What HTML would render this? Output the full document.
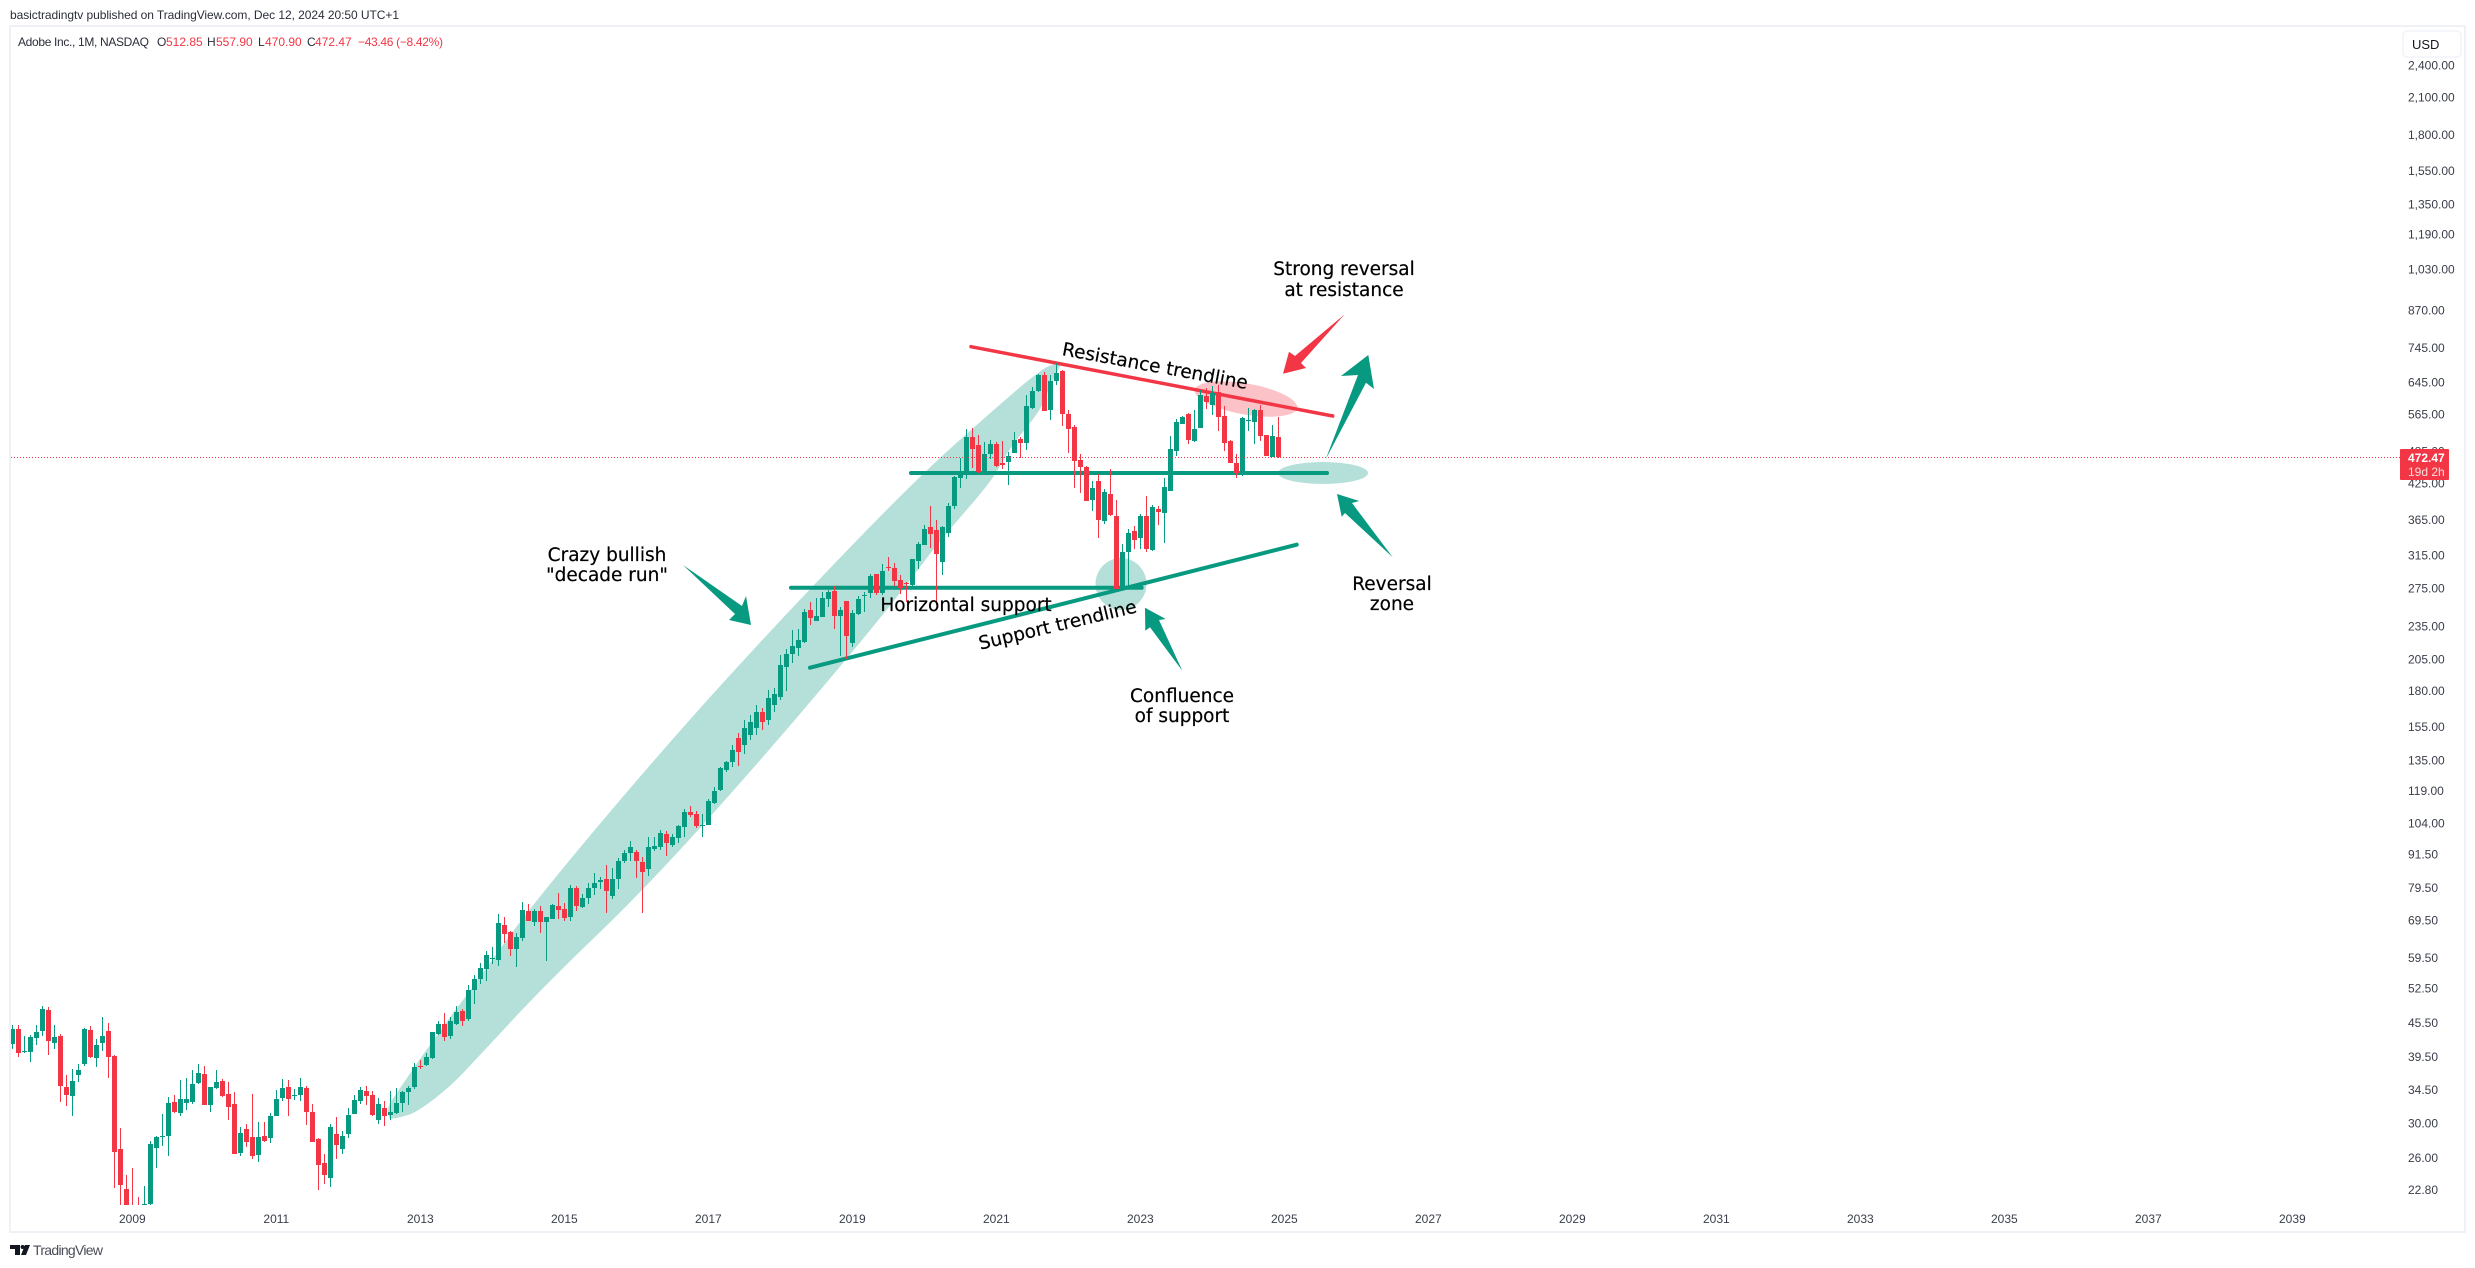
<!DOCTYPE html>
<html lang="en">
<head>
<meta charset="utf-8">
<title>Adobe Inc. monthly chart</title>
<style>
html,body{margin:0;padding:0;background:#fff;width:2475px;height:1268px;overflow:hidden}
svg{display:block}
.tick{font:12px "Liberation Sans",sans-serif;fill:#3a3e4a}
.note{font:18.5px "DejaVu Sans","Liberation Sans",sans-serif;fill:#000;stroke:#000;stroke-width:.2;text-anchor:middle}
.leg{font:12px "Liberation Sans",sans-serif;fill:#2a2e39}
.red{fill:#f23645}
</style>
</head>
<body>
<svg id="root" xmlns="http://www.w3.org/2000/svg" width="2475" height="1268" viewBox="0 0 2475 1268">
  <defs><clipPath id="plot"><rect x="11" y="27" width="2453" height="1178"/></clipPath></defs>
  <rect x="0" y="0" width="2475" height="1268" fill="#fff"/>
  <rect x="10" y="26" width="2455" height="1206" fill="none" stroke="#eff1f6" stroke-width="2"/>
  <text class="leg" x="10" y="19" textLength="389">basictradingtv published on TradingView.com, Dec 12, 2024 20:50 UTC+1</text>

  <g>
    <text class="leg" x="18" y="46" textLength="131">Adobe Inc., 1M, NASDAQ</text>
    <text class="leg" x="157" y="46">O</text>
    <text class="leg red" x="166" y="46">512.85</text>
    <text class="leg" x="207" y="46">H</text>
    <text class="leg red" x="216" y="46">557.90</text>
    <text class="leg" x="258" y="46">L</text>
    <text class="leg red" x="265" y="46">470.90</text>
    <text class="leg" x="307" y="46">C</text>
    <text class="leg red" x="315" y="46">472.47</text>
    <text class="leg red" x="358" y="46" textLength="85">−43.46 (−8.42%)</text>
  </g>

  <g clip-path="url(#plot)">
    <path d="M390 1119 Q386 1112 390 1103 L403.5 1083 Q417 1063 433.5 1040 Q450 1017 461.5 1002 Q473 987 501.5 947 Q530 907 596 828.5 Q662 750 721 685 Q780 620 847.5 550 Q915 480 952.5 446.5 Q990 413 1015 391.5 Q1040 370 1049 366 Q1058 362 1060 366 L1054 378 Q1048 390 1044.5 400 Q1041 410 1024.5 430 Q1008 450 1000.5 465 Q993 480 966.5 510 Q940 540 915 573.5 Q890 607 830 678.5 Q770 750 708.5 818.5 Q647 887 597 935 Q547 983 513.5 1019 Q480 1055 465 1071 Q450 1087 433.5 1099.5 Q417 1112 409.5 1114.5 Q402 1117 396 1118 Z" fill="#b5e0d9"/>
    <ellipse cx="1121" cy="584" rx="25.5" ry="26" fill="#b5e0d9"/>
    <ellipse cx="1246" cy="399" rx="52" ry="15.5" transform="rotate(10 1246 399)" fill="#fbc3c8"/>
    <ellipse cx="1323" cy="473" rx="45" ry="11" fill="#b5e0d9"/>
  </g>

  <line x1="971" y1="346.7" x2="1332.7" y2="416" stroke="#f23645" stroke-width="3.5" stroke-linecap="round"/>
  <line x1="911" y1="473" x2="1327" y2="473" stroke="#089981" stroke-width="4" stroke-linecap="round"/>
  <line x1="791" y1="587.7" x2="1141.7" y2="587.7" stroke="#089981" stroke-width="4" stroke-linecap="round"/>
  <line x1="810" y1="667.7" x2="1296.7" y2="544.7" stroke="#089981" stroke-width="4" stroke-linecap="round"/>

  <g id="candles" clip-path="url(#plot)" shape-rendering="crispEdges"></g>

  <line x1="11" y1="457.5" x2="2400" y2="457.5" stroke="#f23645" stroke-width="1" stroke-dasharray="1 2"/>

  <polygon points="1325.7,459.3 1358,375 1341,376 1368.3,355 1374,389 1366,382.7" fill="#089981"/>
  <polygon points="1344.7,314.3 1295,356 1289,351.7 1283,373.7 1306,368 1301,363" fill="#f23645"/>
  <polygon points="1392.7,557.3 1352,503 1359.3,501 1337,494 1341.7,516.7 1345,513" fill="#089981"/>
  <polygon points="1182.3,670.7 1159,620 1165.7,619 1145,607.7 1145.3,630.7 1150,627.3" fill="#089981"/>
  <polygon points="683,565 742,606 746,596 751,625 729,620 735,614" fill="#089981"/>

  <g>
    <text class="note" x="1344" y="275">Strong reversal</text>
    <text class="note" x="1344" y="296">at resistance</text>
    <text class="note" x="0" y="0" transform="translate(1154 372) rotate(10.4)">Resistance trendline</text>
    <text class="note" x="966" y="611">Horizontal support</text>
    <text class="note" x="0" y="0" transform="translate(1059 631) rotate(-13.4)">Support trendline</text>
    <text class="note" x="607" y="561">Crazy bullish</text>
    <text class="note" x="607" y="581">"decade run"</text>
    <text class="note" x="1182" y="702">Confluence</text>
    <text class="note" x="1182" y="722">of support</text>
    <text class="note" x="1392" y="590">Reversal</text>
    <text class="note" x="1392" y="610">zone</text>
  </g>

  <g id="price-axis"></g>
  <g id="time-axis"></g>

  <g>
    <rect x="2403" y="31" width="58" height="26" rx="4" fill="#fff" stroke="#f0f3fa" stroke-width="1.5"/>
    <text x="2412" y="49" style="font:13px 'Liberation Sans',sans-serif;fill:#131722">USD</text>
  </g>

  <g>
    <rect x="2400" y="449" width="49" height="31" rx="1" fill="#f23645"/>
    <text x="2408" y="462" style="font:bold 12px 'Liberation Sans',sans-serif;fill:#fff">472.47</text>
    <text x="2408" y="476" style="font:12px 'Liberation Sans',sans-serif;fill:#fdd">19d 2h</text>
  </g>

  <g fill="#131722">
    <path d="M10 1245h10v10h-5v-6h-5z"/>
    <circle cx="22.6" cy="1247" r="2"/>
    <path d="M25 1245h5l-4 10h-5z"/>
    <text x="33" y="1255" style="font:14px 'Liberation Sans',sans-serif;fill:#4a4d57" textLength="70">TradingView</text>
  </g>
</svg>
<script>
const opens = [41.6,44.27,40.24,40.24,42.65,43.91,47.89,41.78,43.0,34.82,
33.55,36.59,38.3,44.09,39.26,41.78,43.91,39.6,26.94,22.82,
21.0,19.5,16.7,21.45,27.05,28.3,28.43,32.73,31.27,32.59,
32.73,35.4,36.74,32.33,34.68,35.69,33.83,32.46,26.5,29.26,
28.3,26.28,28.43,28.19,30.88,33.28,34.82,33.55,33.69,34.68,
31.4,28.07,25.42,23.89,28.66,26.94,28.66,31.13,32.86,34.25,
33.69,30.37,31.92,31.0,31.27,32.59,34.11,34.82,37.98,38.14,
39.26,43.37,45.2,43.0,45.2,47.69,46.14,52.03,54.46,56.75,
59.15,58.91,68.1,66.15,61.65,64.53,72.15,68.93,72.15,68.93,
69.8,73.73,72.75,70.37,79.35,73.4,76.1,79.35,81.3,82.35,
76.75,82.35,88.75,91.75,92.13,88.4,85.85,93.3,94.05,99.25,
94.85,97.6,102.15,108.7,107.8,102.6,103.0,112.8,119.1,129.3,
133.7,147.7,143.5,149.5,153.9,164.4,159.1,169.3,175,198.2,
209.1,214.4,219.8,250.9,239.7,243.7,262.6,271.5,244.8,260.4,
218.9,246.8,265.9,269.2,291.2,269.2,299.8,298.6,284.1,280.4,
278,307.3,328.4,353.8,349.4,306,344.9,386,433.4,444.3,
513.6,497,446.1,478.7,498.9,461.1,463.1,480.8,509.3,501,
579,621.3,663.9,574.3,647.6,675,564.8,535.3,466.9,453.6,
395.7,428,362.7,405.7,370.3,273.7,319,347.9,337.7,370.3,
321.7,381.2,374.9,410.7,484.7,542,564.8,505.1,533,608.5,
586.4,618.8,560.2,505.1,461.1,442.5,548.7,546.5,574.3,517.8,472.7,512.85];
const highs = [45.02,45.02,43.0,43.19,45.02,48.69,48.49,45.02,43.37,36.59,
37.51,38.3,44.46,44.83,42.48,46.53,45.38,39.7,29.38,24.19,
24.9,22.09,23.11,27.84,28.4,31.13,33.42,33.69,35.84,36.13,
37.36,38.3,37.98,34.9,37.36,35.99,35.55,34.11,29.5,29.87,
33.83,30.12,30.12,31.27,34.39,35.99,35.84,34.53,36.13,34.96,
32.46,28.19,26.39,29.87,30.75,29.02,31.92,33.69,34.82,34.96,
34.25,33.28,32.86,34.25,34.68,34.25,34.96,38.46,38.94,40.08,
43.8,45.76,47.3,46.53,48.69,48.09,53.12,55.37,58.18,61.15,
62.17,71.25,70.37,66.43,65.87,74.87,74.25,72.75,73.73,70.4,
74.25,77.7,74.56,80.34,80.0,77.4,81.0,84.4,83.0,87.3,
86.2,89.85,92.9,96.4,92.9,90.2,98.0,98.0,100.9,100.5,
99.25,103.0,110.05,111.45,109.15,107.8,114.65,120.6,130.9,134.25,
143.5,150.8,159.1,162.4,169.3,167.2,180.1,181.6,208.3,213.5,
230.9,231.9,251.9,259.4,263.7,270.3,272.6,277.2,254,260.6,
250.9,265.9,270.3,291.2,291.5,303.5,312.5,304.8,290,281.7,
310.2,332.5,356.7,386,364.2,355.3,391,437,471,530.9,
533,518,503,507.2,503,505.1,483,524.3,513.6,611,
631.7,666.6,672.2,663.9,697.6,677.8,574.3,539.8,478.7,455.4,
428,440.7,414.1,449.9,395.7,329.8,350.9,355.3,373.4,402.4,
387.6,386,433.4,516,553.3,560.2,567.2,574.3,623.9,629.1,
634.2,636.9,584,507.2,478.7,558,579,576.7,586.4,518.2,539.8,557.9];
const lows = [40.75,39.43,40.1,38.62,41.43,43.0,39.75,40.75,32.73,32.19,
30.88,35.55,37.98,39.3,37.82,40.41,36.13,22.92,20.5,19.5,
18.0,15.98,16.5,20.5,24.9,27.29,26.17,31.27,30.88,31.66,
32.46,35.26,32.3,31.4,34.6,33.42,30.37,26.35,26.17,27.17,
25.85,25.53,27.73,27.6,30.85,32.86,30.88,33.0,32.86,29.75,
27.7,22.73,23.3,23.01,25.85,26.39,28.19,31.1,32.46,32.33,
30.88,29.87,29.63,30.37,31.13,31.4,32.33,34.6,37.51,37.98,
39.1,43.19,42.12,42.48,45.02,44.83,45.76,49.1,53.34,54.0,
57.94,57.46,63.2,59.9,57.24,63.74,69.15,67.83,65.87,58.67,
69.75,69.8,69.2,69.2,72.15,73.1,74.25,77.05,79.0,71.55,
75.8,79.0,88.0,88.75,82.7,71.55,83.35,92.5,92.9,90.6,
94.05,95.6,98.0,106.5,101.75,98.0,102.9,112.3,118.6,128.25,
130.9,131.4,138.2,146.5,149.5,152.6,155.8,164.4,172.8,179.4,
201.4,207.4,218.9,235.8,239.5,243.5,254,231.9,207.4,204.9,
215.3,245.8,248.8,263.7,267,267,294.9,277.2,268.1,259.4,
277.2,297.3,328,324.4,256.2,290,339.5,381.2,415.9,431.6,
451.7,442.5,446,469,453.6,449.9,421,480.5,471,486.7,
576.7,618.8,571.5,551,636.9,537.6,480.8,415.9,407.3,393.5,
378,337.7,358.2,370.3,273.5,273.5,277.2,323,323,319,
320.4,356.7,331.1,410.5,475.1,541.5,498.9,503,532.5,576.7,
562.5,526.5,484.7,460.9,433.4,437,526.5,498.9,505.1,474.9,472.5,470.9];
const closes = [44.27,40.08,40.41,42.83,43.73,48.09,42.12,42.83,34.96,33.69,
35.69,37.36,44.27,39.43,41.43,43.0,39.43,26.61,23.21,21.0,
19.3,16.7,21.45,27.5,28.3,28.43,32.59,31.4,33.14,33.14,
35.26,36.9,32.33,34.82,35.55,33.55,32.06,26.39,28.78,27.73,
26.17,28.3,27.84,30.88,33.14,34.68,33.14,33.69,34.82,31.4,
27.73,25.2,24.19,29.5,27.38,28.43,31.0,33.0,34.39,33.55,
31.0,32.46,30.88,31.4,32.59,34.11,34.68,37.82,37.82,39.43,
43.73,45.2,42.83,45.76,47.5,45.76,52.03,54.46,56.99,60.15,
59.4,68.66,65.6,61.65,64.8,72.45,69.2,72.15,68.93,70.37,
74.0,72.45,70.1,79.35,73.73,76.1,79.35,81.0,82.0,78.4,
82.35,88.75,91.75,94.05,88.75,84.8,94.05,94.45,99.65,95.6,
98.0,102.6,108.7,107.35,102.6,103.0,113.75,118.6,130.4,133.7,
140.5,139.3,153.9,157.8,164.4,157.8,174.2,177.1,199.8,209.1,
216.2,221.6,248.8,242.7,244.8,263.7,270.3,244.8,250.9,225.4,
247.8,262.6,267,288.8,269.2,294.9,298.6,282.9,274.9,279.3,
310,329.8,350.9,343.6,316.3,353.8,386,435.2,438.9,513.6,
488.7,444.3,478.7,498.9,455.4,457.3,475.1,507.2,501,584,
621.3,663.9,571.9,647.6,669.4,564.8,530.9,465,453.6,393.9,
415.9,364.2,409,371.8,273.7,319,344.9,335.3,370.3,323,
384.4,376.5,417.6,488.7,546.5,558,507.2,530.9,611,593.6,
616.2,558,501,461.1,442.5,555.6,551,574.3,515.7,475.1,515.7,472.47];
const priceTicks = [2400,2100,1800,1550,1350,1190,1030,870,745,645,565,485,425,365,315,275,235,205,180,155,135,119,104,91.5,79.5,69.5,59.5,52.5,45.5,39.5,34.5,30,26,22.8];
const yearLabels = [2009,2011,2013,2015,2017,2019,2021,2023,2025,2027,2029,2031,2033,2035,2037,2039];
const firstYear = 2007;
const firstMonth = 5;

const NS = 'http://www.w3.org/2000/svg';
function xAt(i){ return 12.33 + 6 * i; }
function xOfYear(y){ return xAt((y - firstYear) * 12 + 1 - firstMonth); }
function yAt(p){ return 457.3 + 241.5 * Math.log(472.47 / p); }

const candleLayer = document.getElementById('candles');
for (let i = 0; i < opens.length; i++) {
  const up = closes[i] >= opens[i];
  const color = up ? '#089981' : '#f23645';
  const x = Math.round(xAt(i));
  const top = Math.round(yAt(Math.max(opens[i], closes[i])));
  const bottom = Math.round(yAt(Math.min(opens[i], closes[i])));
  const wickTop = Math.round(yAt(highs[i]));
  const wickBottom = Math.round(yAt(lows[i]));
  const wick = document.createElementNS(NS, 'rect');
  
  
  wick.setAttribute('x', x);
  wick.setAttribute('y', wickTop);
  wick.setAttribute('width', 1);
  wick.setAttribute('height', Math.max(1, wickBottom - wickTop));
  wick.setAttribute('fill', color);
  candleLayer.appendChild(wick);
  const body = document.createElementNS(NS, 'rect');
  
  
  body.setAttribute('x', x - 2);
  body.setAttribute('y', top);
  body.setAttribute('width', 5);
  body.setAttribute('height', Math.max(1, bottom - top));
  body.setAttribute('fill', color);
  candleLayer.appendChild(body);
}

const priceAxis = document.getElementById('price-axis');
for (const p of priceTicks) {
  const t = document.createElementNS(NS, 'text');
  
  
  t.setAttribute('class', 'tick');
  t.setAttribute('x', 2408);
  t.setAttribute('y', yAt(p) + 4.5);
  t.textContent = p.toLocaleString('en-US', {minimumFractionDigits: 2, maximumFractionDigits: 2});
  priceAxis.appendChild(t);
}

const timeAxis = document.getElementById('time-axis');
for (const y of yearLabels) {
  const t = document.createElementNS(NS, 'text');
  
  
  t.setAttribute('class', 'tick');
  t.setAttribute('text-anchor', 'middle');
  t.setAttribute('x', xOfYear(y));
  t.setAttribute('y', 1223);
  t.textContent = y;
  timeAxis.appendChild(t);
}
</script>
</body>
</html>
